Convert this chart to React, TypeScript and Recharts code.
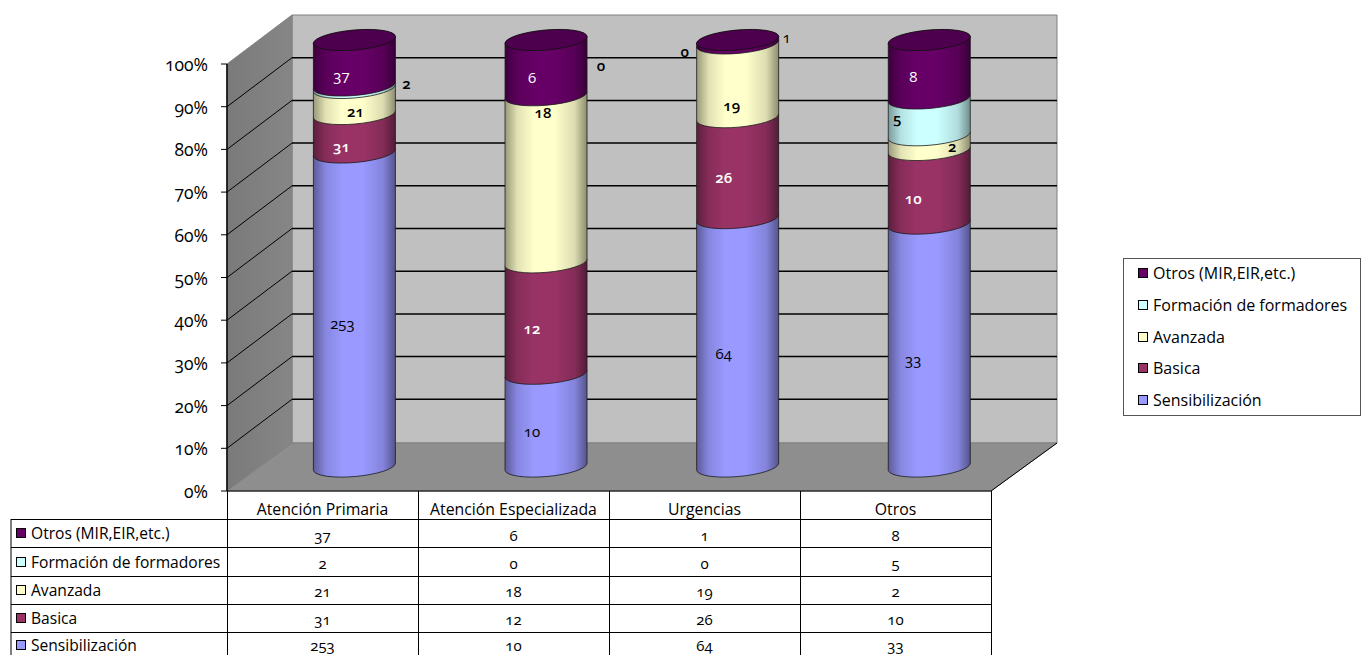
import * as React from "react";
import {
  Bar,
  CartesianGrid,
  ComposedChart,
  LabelList,
  XAxis,
  YAxis,
} from "recharts";

const categories = ["Atención Primaria", "Atención Especializada", "Urgencias", "Otros"];

const sensibilizacion = [253, 10, 64, 33];
const basica = [31, 12, 26, 10];
const avanzada = [21, 18, 19, 2];
const formadores = [2, 0, 0, 5];
const otros = [37, 6, 1, 8];

const yTicks = [0, 0.1, 0.2, 0.3, 0.4, 0.5, 0.6, 0.7, 0.8, 0.9, 1];

// bottom to top, as stacked
const series = [
  { name: "Sensibilización", values: sensibilizacion, color: "#9999FF", text: "#000", weight: 500 },
  { name: "Basica", values: basica, color: "#993366", text: "#fff", weight: 600 },
  { name: "Avanzada", values: avanzada, color: "#FFFFCC", text: "#000", weight: 600 },
  { name: "Formación de formadores", values: formadores, color: "#CCFFFF", text: "#000", weight: 600 },
  { name: "Otros (MIR,EIR,etc.)", values: otros, color: "#660066", text: "#fff", weight: 500 },
];

// label nudges from the middle of each segment, [dx, dy] per category
const labelNudges: Record<string, number[][]> = {
  "Sensibilización": [[-12, 13], [-14, 10], [-14, 10], [-16, 13]],
  "Basica": [[-13, 12], [-14, 10], [-14, 9], [-16, 11]],
  "Avanzada": [[1, 10], [-3, -67], [-6, 24], [23, 3]],
  "Formación de formadores": [[52, -4], [55, -31], [-53, 7], [-32, 1]],
  "Otros (MIR,EIR,etc.)": [[-13, 12], [-14, 9], [49, -5], [-16, 7]],
};

const rows = categories.map((category, i) => {
  const row: Record<string, string | number> = { category };
  series.forEach((s) => {
    row[s.name] = s.values[i];
  });
  return row;
});

const FONT = "'Open Sans', sans-serif";
const numStyle: React.CSSProperties = { fontVariantNumeric: "oldstyle-nums" };

// 3D box geometry
const FRONT_LEFT = 227;
const FRONT_RIGHT = 991;
const BACK_LEFT = 292;
const BACK_RIGHT = 1057;
const COL_WIDTH = 191;
const TILT = 3.6;
const LID_RY = 10;

const tableRowTops = [519, 547, 576, 604, 632];
const tableTextY = [533, 562, 590, 618, 645];
const tableValueY = [535, 563, 591, 619, 645];
const legendY = [273, 305, 337, 368, 400];
const topDown = [...series].reverse();

function Cylinder(props: any) {
  const { x, y, width, height, fill, isTop } = props;
  if (!height || height <= 0) return null;
  const rx = width / 2 + 0.2;
  const bottom = y + height;
  const d =
    `M${x},${bottom + TILT} A${rx},${LID_RY} -5 0 0 ${x + width},${bottom - TILT} ` +
    `L${x + width},${y - TILT} A${rx},${LID_RY} -5 0 0 ${x},${y + TILT} Z`;
  const cx = x + width / 2;
  return (
    <g>
      <path d={d} fill={fill} stroke="none" />
      <path d={d} fill="url(#cylShade)" stroke="#1a1a1a" strokeWidth={0.8} />
      {isTop && (
        <ellipse
          cx={cx}
          cy={y}
          rx={rx}
          ry={LID_RY}
          transform={`rotate(-5 ${cx} ${y})`}
          fill="#4D004D"
          stroke="#111"
          strokeWidth={0.8}
        />
      )}
    </g>
  );
}

function SegmentLabel(props: any) {
  const { x, y, width, height, value, index, seriesName, color, weight } = props;
  const [dx, dy] = labelNudges[seriesName][index];
  // labels pushed off the cylinder sit on the grey wall, so they stay dark
  const fill = Math.abs(dx) > 40 ? "#000" : color;
  return (
    <text
      x={x + width / 2 + dx}
      y={y + height / 2 + dy}
      textAnchor="middle"
      dominantBaseline="central"
      fontFamily={FONT}
      fontSize={15}
      fontWeight={weight}
      fill={fill}
      style={numStyle}
    >
      {value}
    </text>
  );
}

function PercentTick({ y, payload }: any) {
  return (
    <text
      x={208}
      y={y + 24}
      textAnchor="end"
      dominantBaseline="central"
      fontFamily={FONT}
      fontSize={17.5}
      fill="#000"
      style={numStyle}
    >
      {`${Math.round(payload.value * 100)}%`}
    </text>
  );
}

// category header plus that category's column of the data table
function CategoryTick({ payload, index }: any) {
  const cx = FRONT_LEFT + COL_WIDTH * index + COL_WIDTH / 2;
  return (
    <g fontFamily={FONT} fill="#000" textAnchor="middle" dominantBaseline="central" style={numStyle}>
      <text x={cx} y={509} fontSize={15.8}>
        {payload.value}
      </text>
      {topDown.map((s, r) => (
        <text key={s.name} x={cx} y={tableValueY[r]} fontSize={15}>
          {s.values[index]}
        </text>
      ))}
    </g>
  );
}

function WallLine(props: any) {
  const { y1 } = props;
  // 0% and 100% fall on the box edges
  if (y1 <= 41 || y1 >= 466) return <g />;
  return (
    <g stroke="#000">
      <line x1={FRONT_LEFT} y1={y1 + 24} x2={BACK_LEFT} y2={y1 - 25} strokeWidth={1} />
      <line x1={BACK_LEFT} y1={y1 - 25} x2={BACK_RIGHT} y2={y1 - 25} strokeWidth={1.5} />
    </g>
  );
}

function Backdrop() {
  return (
    <svg width={1363} height={655} style={{ position: "absolute", left: 0, top: 0 }}>
      <defs>
        <linearGradient id="sideWall" x1="0" y1="0" x2="1" y2="0">
          <stop offset="0" stopColor="#7a7a7a" />
          <stop offset="1" stopColor="#868686" />
        </linearGradient>
      </defs>
      <polygon points={`${BACK_LEFT},15 ${BACK_RIGHT},15 ${BACK_RIGHT},443 ${BACK_LEFT},443`} fill="#C0C0C0" stroke="#808080" />
      <polygon points={`${FRONT_LEFT},64 ${BACK_LEFT},15 ${BACK_LEFT},443 ${FRONT_LEFT},491`} fill="url(#sideWall)" stroke="#808080" />
      <polygon points={`${BACK_LEFT},443 ${BACK_RIGHT},443 ${FRONT_RIGHT},491 ${FRONT_LEFT},491`} fill="#8E8E8E" stroke="#808080" />
    </svg>
  );
}

function Overlay() {
  return (
    <svg width={1363} height={655} style={{ position: "absolute", left: 0, top: 0 }} fontFamily={FONT} fontSize={15.6}>
      {/* axis front edge with ticks */}
      <line x1={FRONT_LEFT} y1={64} x2={FRONT_LEFT} y2={491} stroke="#000" strokeWidth={1.5} />
      {yTicks.map((t) => {
        const y = 491 - 427 * t;
        return <line key={t} x1={221} y1={y} x2={FRONT_LEFT} y2={y} stroke="#000" />;
      })}
      <line x1={FRONT_LEFT} y1={491} x2={FRONT_RIGHT} y2={491} stroke="#000" />
      <line x1={FRONT_RIGHT} y1={491} x2={BACK_RIGHT} y2={443} stroke="#000" />

      {/* data table rules */}
      {tableRowTops.map((y) => (
        <line key={y} x1={11} y1={y + 0.5} x2={FRONT_RIGHT} y2={y + 0.5} stroke="#000" />
      ))}
      <line x1={11} y1={519} x2={11} y2={655} stroke="#000" />
      {[0, 1, 2, 3, 4].map((i) => (
        <line key={i} x1={FRONT_LEFT + COL_WIDTH * i + 0.5} y1={491} x2={FRONT_LEFT + COL_WIDTH * i + 0.5} y2={655} stroke="#000" />
      ))}
      {topDown.map((s, r) => (
        <g key={s.name}>
          <rect x={16.5} y={tableTextY[r] - 4.5} width={9} height={9} fill={s.color} stroke="#000" />
          <text x={31} y={tableTextY[r]} dominantBaseline="central">
            {s.name}
          </text>
        </g>
      ))}

      {/* legend */}
      <rect x={1123.5} y={258.5} width={237} height={157} fill="#fff" stroke="#555" />
      {topDown.map((s, r) => (
        <g key={s.name}>
          <rect x={1138.5} y={legendY[r] - 4.5} width={9} height={9} fill={s.color} stroke="#000" />
          <text x={1153} y={legendY[r]} fontSize={16} dominantBaseline="central">
            {s.name}
          </text>
        </g>
      ))}
    </svg>
  );
}

export default function App() {
  return (
    <div style={{ position: "absolute", left: 0, top: 0, width: 1363, height: 655, overflow: "hidden", background: "#fff" }}>
      <Backdrop />
      <div style={{ position: "absolute", left: 0, top: 0 }}>
        <ComposedChart
          width={1363}
          height={655}
          data={rows}
          stackOffset="expand"
          margin={{ top: 40, left: 257.4, right: 338.1, bottom: 187 }}
          barCategoryGap={0}
        >
          <defs>
            <linearGradient id="cylShade" x1="0" y1="0" x2="1" y2="0">
              <stop offset="0" stopColor="#000" stopOpacity={0.4} />
              <stop offset="0.15" stopColor="#000" stopOpacity={0.12} />
              <stop offset="0.35" stopColor="#000" stopOpacity={0} />
              <stop offset="0.6" stopColor="#000" stopOpacity={0} />
              <stop offset="0.85" stopColor="#000" stopOpacity={0.14} />
              <stop offset="1" stopColor="#000" stopOpacity={0.45} />
            </linearGradient>
          </defs>
          <CartesianGrid vertical={false} syncWithTicks horizontal={WallLine as any} />
          <XAxis dataKey="category" height={1} axisLine={false} tickLine={false} interval={0} tick={CategoryTick as any} />
          <YAxis
            type="number"
            domain={[0, 1]}
            ticks={yTicks}
            width={1}
            interval={0}
            axisLine={false}
            tickLine={false}
            tick={PercentTick as any}
          />
          {series.map((s, i) => (
            <Bar
              key={s.name}
              dataKey={s.name}
              stackId="a"
              barSize={82}
              fill={s.color}
              isAnimationActive={false}
              shape={(p: any) => <Cylinder {...p} isTop={i === series.length - 1} />}
            >
              <LabelList
                dataKey={s.name}
                content={(p: any) => <SegmentLabel {...p} seriesName={s.name} color={s.text} weight={s.weight} />}
              />
            </Bar>
          ))}
        </ComposedChart>
      </div>
      <Overlay />
    </div>
  );
}
